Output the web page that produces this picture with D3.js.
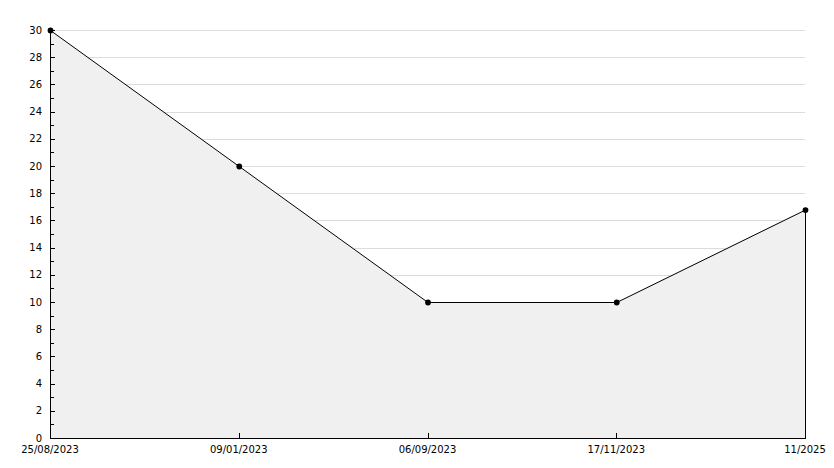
<!DOCTYPE html>
<html>
<head>
<meta charset="utf-8">
<script src="https://cdn.jsdelivr.net/npm/d3@7"></script>
<style>
  body { margin: 0; background: #fff; }
  svg { display: block; }
  text { font-family: "DejaVu Sans", sans-serif; font-size: 10px; fill: #000; }
</style>
</head>
<body>
<div id="chart"></div>
<script>
// data
const dates = ["25/08/2023", "09/01/2023", "06/09/2023", "17/11/2023", "11/2025"];
const values = [30, 20, 10, 10, 16.8];
const majorTicks = d3.range(0, 31, 2);
const minorTicks = d3.range(1, 30, 2);

const width = 834, height = 468;
const plotLeft = 50, plotRight = 805, plotTop = 30, plotBottom = 438;

const svg = d3.select("#chart").append("svg")
    .attr("width", width)
    .attr("height", height);

const x = d3.scalePoint()
    .domain(d3.range(dates.length))
    .range([plotLeft, plotRight]);

const y = d3.scaleLinear()
    .domain([0, 30])
    .range([plotBottom, plotTop]);

// grid lines
svg.append("g")
    .selectAll("line")
    .data(majorTicks.filter(d => d > 0))
    .enter().append("line")
    .attr("x1", plotLeft)
    .attr("x2", plotRight)
    .attr("y1", d => Math.round(y(d)) + 0.5)
    .attr("y2", d => Math.round(y(d)) + 0.5)
    .attr("stroke", "#dcdcdc")
    .attr("stroke-width", 1);

// filled area
const area = d3.area()
    .x((d, i) => x(i))
    .y0(plotBottom)
    .y1(d => y(d));

svg.append("path")
    .datum(values)
    .attr("d", area)
    .attr("fill", "#f0f0f0")
    .attr("stroke", "none");

// half-pixel offset keeps the flat segment crisp
const line = d3.line()
    .x((d, i) => x(i) + 0.5)
    .y(d => y(d) + 0.5);

svg.append("path")
    .datum(values)
    .attr("d", line)
    .attr("fill", "none")
    .attr("stroke", "#000")
    .attr("stroke-width", 1);

// right edge of the area
svg.append("line")
    .attr("x1", x(values.length - 1) + 0.5)
    .attr("x2", x(values.length - 1) + 0.5)
    .attr("y1", y(values[values.length - 1]))
    .attr("y2", plotBottom)
    .attr("stroke", "#000");

// y axis (ticks point inward)
const yAxis = svg.append("g");
yAxis.append("line")
    .attr("x1", plotLeft + 0.5).attr("x2", plotLeft + 0.5)
    .attr("y1", plotTop).attr("y2", plotBottom + 0.5)
    .attr("stroke", "#000");
yAxis.selectAll(".major")
    .data(majorTicks)
    .enter().append("line")
    .attr("class", "major")
    .attr("x1", plotLeft).attr("x2", plotLeft + 5)
    .attr("y1", d => Math.round(y(d)) + 0.5)
    .attr("y2", d => Math.round(y(d)) + 0.5)
    .attr("stroke", "#000");
yAxis.selectAll(".minor")
    .data(minorTicks)
    .enter().append("line")
    .attr("class", "minor")
    .attr("x1", plotLeft).attr("x2", plotLeft + 4)
    .attr("y1", d => Math.round(y(d)) + 0.5)
    .attr("y2", d => Math.round(y(d)) + 0.5)
    .attr("stroke", "#000");
yAxis.selectAll("text")
    .data(majorTicks)
    .enter().append("text")
    .attr("x", plotLeft - 8)
    .attr("y", d => y(d))
    .attr("dy", "0.35em")
    .attr("text-anchor", "end")
    .text(d => d);

// x axis
const xAxis = svg.append("g");
xAxis.append("line")
    .attr("x1", plotLeft).attr("x2", plotRight + 1)
    .attr("y1", plotBottom + 0.5).attr("y2", plotBottom + 0.5)
    .attr("stroke", "#000");
xAxis.selectAll("line.tick")
    .data(d3.range(1, dates.length - 1))
    .enter().append("line")
    .attr("class", "tick")
    .attr("x1", i => Math.round(x(i)) + 0.5)
    .attr("x2", i => Math.round(x(i)) + 0.5)
    .attr("y1", plotBottom).attr("y2", plotBottom - 5)
    .attr("stroke", "#000");
xAxis.selectAll("text")
    .data(dates)
    .enter().append("text")
    .attr("x", (d, i) => x(i))
    .attr("y", plotBottom + 15)
    .attr("text-anchor", "middle")
    .text(d => d);

// point markers
svg.append("g")
    .selectAll("path")
    .data(values)
    .enter().append("path")
    .attr("transform", (d, i) => `translate(${x(i) + 0.5},${y(d) + 0.5})`)
    .attr("d", d3.symbol().type(d3.symbolCircle).size(26))
    .attr("fill", "#000");
</script>
</body>
</html>
